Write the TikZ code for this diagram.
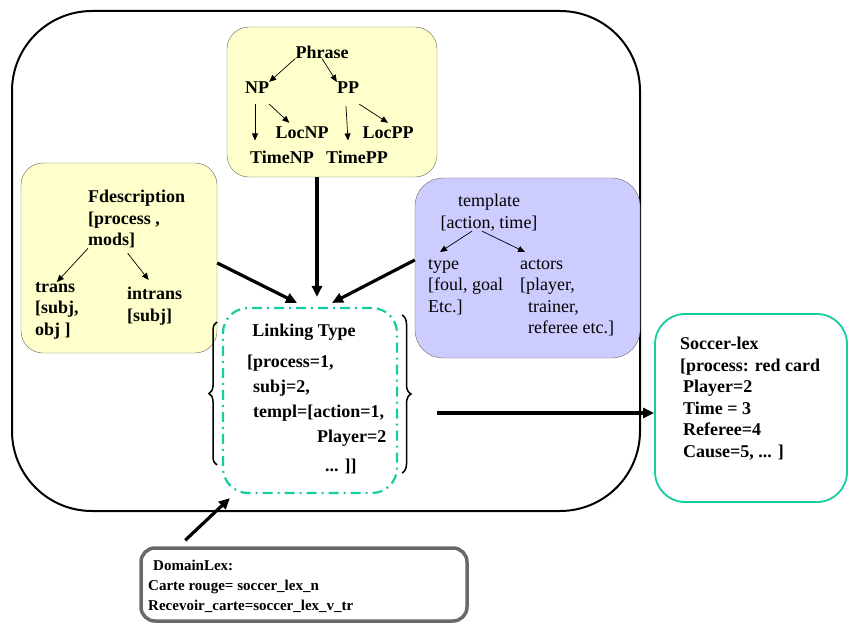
\documentclass[tikz,border=0pt]{standalone}
\usepackage{fontspec}
\setmainfont{Liberation Serif}
\usepackage{tikz}
\usetikzlibrary{arrows.meta,positioning,decorations.pathreplacing}
\definecolor{paleyellow}{RGB}{255,255,204}
\definecolor{palelavender}{RGB}{204,204,255}
\definecolor{linkgreen}{RGB}{20,205,160}
\definecolor{boxgray}{RGB}{105,105,105}
\tikzset{
  roundbox/.style   = {shape=rectangle, draw, inner sep=0pt},
  yellowbox/.style  = {roundbox, rounded corners=22pt, fill=paleyellow, draw=gray!80!black},
  purplebox/.style  = {roundbox, rounded corners=28pt, fill=palelavender, draw=gray!80!black},
  linkbox/.style    = {roundbox, rounded corners=25pt, draw=linkgreen, line width=2.2pt,
                       dash pattern=on 10pt off 5pt on 2pt off 5pt},
  lexbox/.style     = {roundbox, rounded corners=30pt, draw=linkgreen, line width=1.8pt},
  domainbox/.style  = {roundbox, rounded corners=14pt, draw=boxgray, line width=3.5pt},
  txt/.style        = {inner sep=0pt, align=left, font=\fontsize{18}{21.5}\selectfont\bfseries},
  plaintxt/.style   = {txt, font=\fontsize{18}{21.5}\selectfont},
  smalltxt/.style   = {txt, font=\fontsize{15}{19.5}\selectfont\bfseries},
  treearrow/.style  = {-{Triangle[length=7pt,width=6pt]}, line width=0.7pt},
  bigarrow/.style   = {-{Triangle[length=11pt,width=10pt]}, line width=3.2pt},
  bracket/.style    = {decorate, line width=1.5pt}
}

\begin{document}
\begin{tikzpicture}[x=1pt, y=-1pt]
  \useasboundingbox (0,0) rectangle (849,623);

  \node [roundbox, rounded corners=80pt, line width=2pt,
         minimum width=628pt, minimum height=500pt] (frame) at (326,261) {};

  % phrase tree
  \node [yellowbox, minimum width=210pt, minimum height=150pt] (phrasebox) at (332,102) {};
  \node [txt] (phrase) at (322,52) {Phrase};
  \node [txt] (np) at (257,88) {NP};
  \node [txt] (pp) at (348,88) {PP};
  \node [txt] (locnp) at (302,133) {LocNP};
  \node [txt] (locpp) at (388,133) {LocPP};
  \node [txt] (timenp) at (282,157) {TimeNP};
  \node [txt] (timepp) at (357,157) {TimePP};
  \draw [treearrow] (phrase.south west) -- (np.north east);
  \draw [treearrow] (phrase.south) -- (pp.north west);
  \draw [treearrow] ([xshift=-2pt,yshift=-10pt]np.south) -- ([xshift=-2pt,yshift=10pt]np.south |- timenp.north);
  \draw [treearrow] ([yshift=-10pt]np.south east) -- ([xshift=14pt,yshift=4pt]locnp.north west);
  \draw [treearrow] ([xshift=-2pt,yshift=-12pt]pp.south) -- ([yshift=10pt]pp.south |- timepp.north);
  \draw [treearrow] ([yshift=-10pt]pp.south east) -- ([yshift=4pt]locpp.north);

  \node [yellowbox, minimum width=196pt, minimum height=190pt] (fdescbox) at (119,258) {};
  \node [txt, anchor=north west] (fdesc) at (88,190) {Fdescription\\{}[process ,\\mods]};
  \node [txt, anchor=north west] (trans) at (35,282) {trans\\{}[subj,\\obj ]};
  \node [txt, anchor=north west] (intrans) at (127,287) {intrans\\{}[subj]};
  \draw [treearrow] (fdesc.south west) -- (trans.north);
  \draw [treearrow] ([xshift=-9pt,yshift=-5pt]fdesc.south) -- ([xshift=-6pt,yshift=7pt]intrans.north);

  \node [purplebox, minimum width=225pt, minimum height=180pt] (templbox) at (527.5,268) {};
  \node [plaintxt, align=center, anchor=north] (templ) at (489,194) {template\\{}[action, time]};
  \node [plaintxt, anchor=north west] (type) at (428,259) {type\\{}[foul, goal\\Etc.]};
  \node [plaintxt, anchor=north west] (actors) at (520,259)
    {actors\\{}[player,\\\hspace*{8pt}trainer,\\\hspace*{8pt}referee etc.]};
  \draw [treearrow] ([xshift=-17pt]templ.south) -- ([xshift=12pt,yshift=7pt]type.north west);
  \draw [treearrow] ([xshift=-7pt]templ.south) -- ([xshift=5pt,yshift=7pt]actors.north west);

  \node [linkbox, minimum width=174pt, minimum height=185pt] (linkbox) at (310,400.5) {};
  \node [txt] (linktitle) at (304,332) {Linking Type};
  \node [txt, anchor=north west, font=\fontsize{18}{25}\selectfont\bfseries] (linkbody) at (247,355)
    {[process=1,\\\hspace*{6pt}subj=2,\\\hspace*{6pt}templ=[action=1,\\\hspace*{70pt}Player=2\\[4pt]\hspace*{78pt}... ]]};
  \draw [bracket, decoration={brace, amplitude=8pt}] (217,465) -- (217,322);
  \draw [bracket, decoration={brace, amplitude=9pt}] (402,315) -- (402,473);

  \node [lexbox, minimum width=192pt, minimum height=188pt] (lexbox) at (751,408) {};
  \node [txt, anchor=north west] (lex) at (680,337)
    {Soccer-lex\\{}[process: red card\\\hspace*{3pt}Player=2\\\hspace*{3pt}Time = 3\\\hspace*{3pt}Referee=4\\\hspace*{3pt}Cause=5, ... ]};

  \node [domainbox, minimum width=326pt, minimum height=73pt] (domainbox) at (304,584.5) {};
  \node [smalltxt, anchor=west] (domaintitle) at (153,565) {DomainLex:};
  \node [smalltxt, anchor=north west] (domainbody) at (148,580)
    {Carte rouge= soccer\_lex\_n\\Recevoir\_carte=soccer\_lex\_v\_tr};

  \draw [bigarrow] ([xshift=-15pt]phrasebox.south) -- ([xshift=7pt,yshift=10pt]linkbox.north);
  \draw [bigarrow] ([yshift=-5pt]fdescbox.east) -- ([xshift=-13pt,yshift=4pt]linkbox.north);
  \draw [bigarrow] ([yshift=8pt]templbox.west) -- ([xshift=22pt,yshift=4pt]linkbox.north);
  \draw [bigarrow] ([xshift=39pt,yshift=-12.5pt]linkbox.east) -- ([yshift=-5pt]lexbox.west);
  \draw [bigarrow] ([xshift=46pt,yshift=6pt]domainbox.north west) -- ([xshift=8pt,yshift=-4pt]linkbox.south west);
\end{tikzpicture}
\end{document}
